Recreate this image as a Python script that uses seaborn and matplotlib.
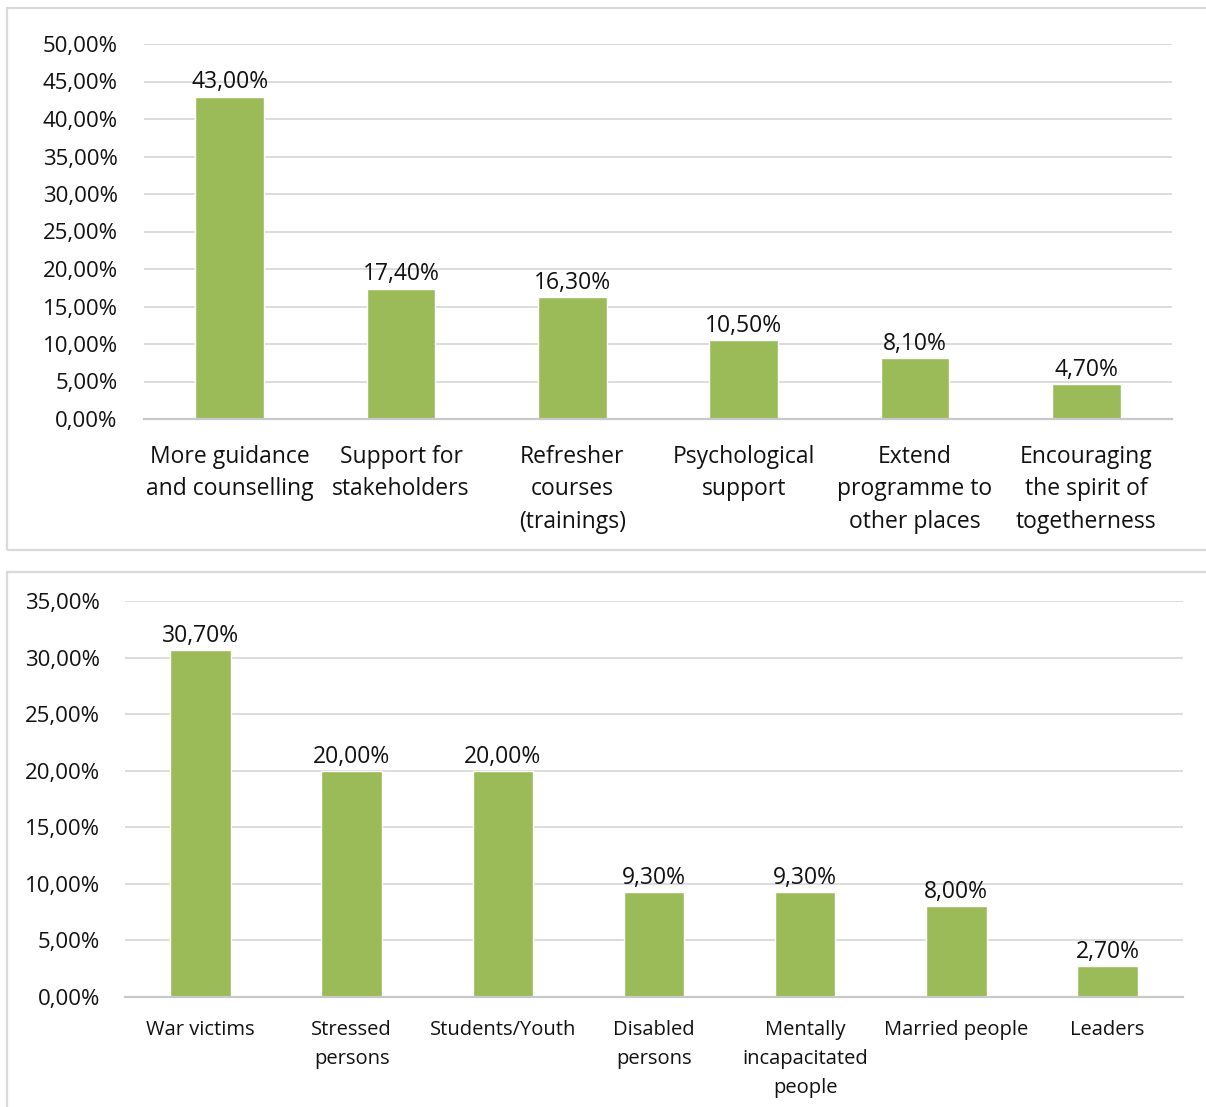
import matplotlib
matplotlib.use("Agg")
import matplotlib.pyplot as plt
import seaborn as sns
import pandas as pd
from matplotlib.patches import Rectangle
from matplotlib.ticker import MultipleLocator, FuncFormatter

# Suggested improvements
improvements = [
    "More guidance\nand counselling",
    "Support for\nstakeholders",
    "Refresher\ncourses\n(trainings)",
    "Psychological\nsupport",
    "Extend\nprogramme to\nother places",
    "Encouraging\nthe spirit of\ntogetherness",
]
improvement_pct = [43.0, 17.4, 16.3, 10.5, 8.1, 4.7]

# Groups that should be targeted
groups = [
    "War victims",
    "Stressed\npersons",
    "Students/Youth",
    "Disabled\npersons",
    "Mentally\nincapacitated\npeople",
    "Married people",
    "Leaders",
]
group_pct = [30.7, 20.0, 20.0, 9.3, 9.3, 8.0, 2.7]

sns.set_theme(style="white")
plt.rcParams["font.family"] = ["Open Sans", "DejaVu Sans"]

BAR = "#9BBB59"
GRID = "#D9D9D9"
FRAME = "#D9D9D9"


def pct(v):
    return f"{v:.2f}".replace(".", ",") + "%"


fig = plt.figure(figsize=(12.06, 11.07), dpi=100)
W, H = 1206, 1107

# panel frames
for (x0, y0, x1, y1) in [(7, 8, 1210, 550), (7, 572, 1210, 1112)]:
    fig.patches.append(Rectangle((x0 / W, 1 - y1 / H), (x1 - x0) / W, (y1 - y0) / H,
                                 transform=fig.transFigure, fill=False,
                                 edgecolor=FRAME, linewidth=1.6, zorder=0))


def panel(rect, cats, vals, ymax, tick_fs, tick_pad, cat_fs, cat_pad, cat_ls, lab_fs):
    ax = fig.add_axes(rect)
    df = pd.DataFrame({"cat": cats, "val": vals})
    sns.barplot(data=df, x="cat", y="val", color=BAR, width=0.4,
                saturation=1, ax=ax, zorder=3)
    ax.set_ylim(0, ymax)
    ax.set_xlim(-0.5, len(cats) - 0.5)
    ax.yaxis.set_major_locator(MultipleLocator(5))
    ax.yaxis.set_major_formatter(FuncFormatter(lambda v, p: pct(v)))
    ax.grid(axis="y", color=GRID, linewidth=1.3, zorder=0)
    for s in ["top", "right", "left"]:
        ax.spines[s].set_visible(False)
    ax.spines["bottom"].set_color("#C8C8C8")
    ax.spines["bottom"].set_linewidth(1.6)
    ax.spines["bottom"].set_zorder(4)
    ax.set_xlabel("")
    ax.set_ylabel("")
    ax.tick_params(axis="y", length=0, labelsize=tick_fs, colors="#111111", pad=tick_pad)
    ax.tick_params(axis="x", length=0, labelsize=cat_fs, colors="#111111", pad=cat_pad)
    for lbl in ax.get_xticklabels():
        lbl.set_linespacing(cat_ls)
        lbl.set_va("top")
    for p, v in zip(ax.patches, vals):
        ax.annotate(pct(v), (p.get_x() + p.get_width() / 2, v),
                    xytext=(0, 1.5), textcoords="offset points",
                    ha="center", va="bottom", fontsize=lab_fs, color="#111111")
    return ax


panel([144 / W, 1 - 419 / H, (1172 - 144) / W, (419 - 44) / H],
      improvements, improvement_pct, 50, 16, 19, 16.5, 19, 1.45, 16.5)
panel([125 / W, 1 - 997 / H, (1183 - 125) / W, (997 - 601) / H],
      groups, group_pct, 35, 16, 18, 14.5, 16.5, 1.6, 16.5)

fig.savefig("out.png", dpi=100)
